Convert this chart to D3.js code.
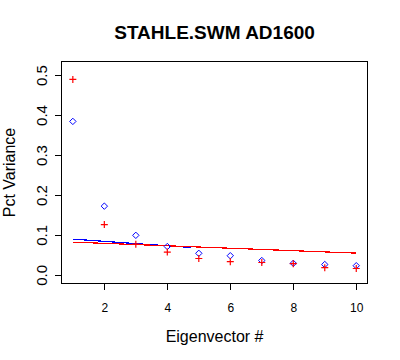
<!DOCTYPE html>
<html><head><meta charset="utf-8">
<script src="https://cdn.jsdelivr.net/npm/d3@7"></script>
<style>body{margin:0;background:#fff}svg{display:block}text{font-family:"Liberation Sans",Arial,sans-serif}</style>
</head><body>
<svg id="c" width="400" height="360"></svg>
<script>
const eigen = [1,2,3,4,5,6,7,8,9,10];
const blueVals = [0.384,0.172,0.099,0.071,0.054,0.048,0.036,0.029,0.026,0.023];
const redVals  = [0.489,0.126,0.077,0.057,0.041,0.033,0.031,0.028,0.018,0.016];
const blueLineX = [1,4.75];
const blueLineY = [0.0896,0.0686];
const redLineX = [1,10];
const redLineY = [0.082,0.0545];
const xTicks = [2,4,6,8,10];
const yTicks = [0,0.1,0.2,0.3,0.4,0.5];

const svg = d3.select("#c");
const L=61.5,R=367.6,T=61.7,B=283.3;
const x = d3.scaleLinear().domain([0.64,10.36]).range([L,R]);
const y = d3.scaleLinear().domain([-0.021,0.5334]).range([B,T]);

svg.append("rect").attr("width",400).attr("height",360).attr("fill","#fff");

// axes
const xa = svg.append("g").attr("transform",`translate(0,${B})`)
  .call(d3.axisBottom(x).tickValues(xTicks).tickSize(7).tickPadding(0).tickFormat(d3.format("d")));
xa.select(".domain").remove();
xa.selectAll("line").attr("stroke","#000").attr("shape-rendering","crispEdges");
xa.selectAll("text").attr("font-size",12).attr("fill","#000").attr("dy",null).attr("y",28.4);

const ya = svg.append("g").attr("transform",`translate(${L},0)`)
  .call(d3.axisLeft(y).tickValues(yTicks).tickSize(7).tickFormat(d3.format(".1f")));
ya.select(".domain").remove();
ya.selectAll("line").attr("stroke","#000").attr("shape-rendering","crispEdges");
ya.selectAll("text").attr("font-size",15).attr("fill","#000")
  .attr("x",null).attr("dy",null).attr("text-anchor","middle")
  .attr("transform","translate(-14.5,0) rotate(-90)");

svg.append("rect").attr("x",L).attr("y",T).attr("width",R-L).attr("height",B-T)
  .attr("fill","none").attr("stroke","#000").attr("shape-rendering","crispEdges");

// lines
const line = d3.line().x(d=>x(d[0])).y(d=>y(d[1]));
svg.append("path").datum(d3.zip(blueLineX,blueLineY)).attr("d",line)
  .attr("stroke","#0000ff").attr("fill","none").attr("stroke-width",1.2).attr("shape-rendering","crispEdges");
svg.append("path").datum(d3.zip(redLineX,redLineY)).attr("d",line)
  .attr("stroke","#ff0000").attr("fill","none").attr("stroke-width",1.2).attr("shape-rendering","crispEdges");

// points
const ds=3.2;
svg.append("g").selectAll("path").data(d3.zip(eigen,blueVals)).join("path")
  .attr("d",d=>{const cx=x(d[0]),cy=y(d[1]);return `M${cx},${cy-ds}L${cx+ds},${cy}L${cx},${cy+ds}L${cx-ds},${cy}Z`;})
  .attr("fill","none").attr("stroke","#0000ff").attr("stroke-width",1);
const ps=3.5;
svg.append("g").selectAll("path").data(d3.zip(eigen,redVals)).join("path")
  .attr("d",d=>{const cx=x(d[0]),cy=y(d[1]);return `M${cx-ps},${cy}H${cx+ps}M${cx},${cy-ps}V${cy+ps}`;})
  .attr("fill","none").attr("stroke","#ff0000").attr("stroke-width",1.2);

// labels
svg.append("text").attr("x",(L+R)/2).attr("y",39).attr("text-anchor","middle")
  .attr("font-size",19).attr("font-weight","bold").text("STAHLE.SWM AD1600");
svg.append("text").attr("x",(L+R)/2).attr("y",342).attr("text-anchor","middle")
  .attr("font-size",16).text("Eigenvector #");
svg.append("text").attr("transform",`translate(15,${(T+B)/2}) rotate(-90)`).attr("text-anchor","middle")
  .attr("font-size",16).text("Pct Variance");
</script>
</body></html>
